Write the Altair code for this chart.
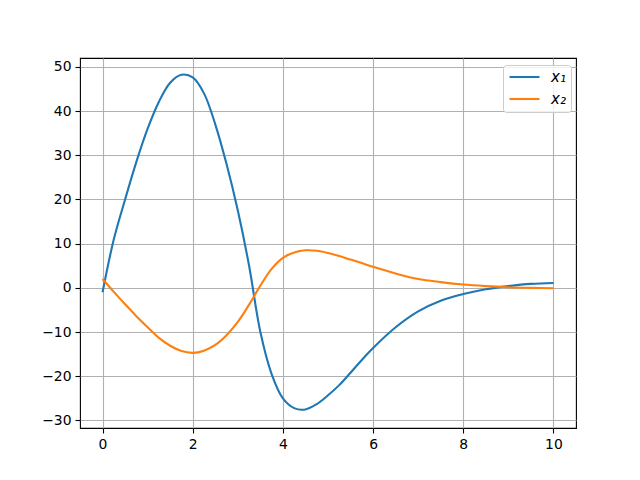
import altair as alt
import pandas as pd

t_x1 = [0.0, 0.25, 0.5, 0.75, 1.0, 1.25, 1.5, 1.75, 2.0, 2.25, 2.5, 2.75, 3.0, 3.25, 3.5, 3.75, 4.0,
        4.25, 4.5, 4.75, 5.0, 5.25, 5.5, 5.75, 6.0, 6.5, 7.0, 7.5, 8.0, 8.5, 9.0, 9.5, 10.0]
x1 = [-1.0, 11.0, 20.0, 28.5, 36.0, 42.1, 46.4, 48.2, 47.6, 44.0, 37.0, 28.0, 17.5, 5.0, -10.0, -19.5, -25.0,
      -27.2, -27.5, -26.3, -24.3, -22.0, -19.2, -16.3, -13.6, -8.9, -5.3, -2.9, -1.4, -0.3, 0.4, 0.9, 1.1]

t_x2 = [0.0, 0.25, 0.5, 0.75, 1.0, 1.25, 1.5, 1.75, 2.0, 2.25, 2.5, 2.75, 3.0, 3.25, 3.5, 3.75, 4.0,
        4.25, 4.5, 4.75, 5.0, 5.25, 5.5, 5.75, 6.0, 6.5, 7.0, 7.5, 8.0, 8.5, 9.0, 9.5, 10.0]
x2 = [2.0, -0.9, -3.7, -6.4, -8.9, -11.3, -13.1, -14.3, -14.7, -14.2, -12.9, -10.7, -7.7, -3.8, 0.5, 4.3, 6.8,
      8.0, 8.5, 8.4, 7.9, 7.2, 6.4, 5.6, 4.75, 3.25, 2.0, 1.3, 0.75, 0.4, 0.15, 0.0, -0.1]

labels = ["x₁", "x₂"]
colors = ["#1f77b4", "#ff7f0e"]
x_ticks = [0, 2, 4, 6, 8, 10]
y_ticks = [-30, -20, -10, 0, 10, 20, 30, 40, 50]

df = pd.concat([
    pd.DataFrame({"t": t_x1, "v": x1, "s": labels[0]}),
    pd.DataFrame({"t": t_x2, "v": x2, "s": labels[1]}),
])

chart = alt.Chart(df).mark_line(strokeWidth=2.1, interpolate="catmull-rom").encode(
    x=alt.X("t:Q", scale=alt.Scale(domain=[-0.5, 10.5], nice=False, zero=False),
            axis=alt.Axis(values=x_ticks, title=None, format="d")),
    y=alt.Y("v:Q", scale=alt.Scale(domain=[-31.7, 52], nice=False, zero=False),
            axis=alt.Axis(values=y_ticks, title=None, format="d")),
    color=alt.Color("s:N", scale=alt.Scale(domain=labels, range=colors),
                    legend=alt.Legend(title=None, orient="none", legendX=423, legendY=7,
                                      symbolType="stroke", symbolSize=900, symbolStrokeWidth=2.1,
                                      clipHeight=14,
                                      labelFontSize=15, labelFontStyle="italic", labelFont="DejaVu Sans",
                                      labelColor="black", padding=5, rowPadding=7,
                                      strokeColor="#cccccc", fillColor="rgba(255,255,255,0.8)",
                                      cornerRadius=3, labelOffset=10)),
    detail="s:N",
).properties(
    width=496, height=370,
    autosize=alt.AutoSizeParams(type="none"),
    padding={"left": 72, "top": 50, "right": 56, "bottom": 44},
).configure_view(
    stroke="black", strokeWidth=1.1
).configure_axis(
    grid=True, gridColor="#b0b0b0", gridWidth=1.1, domain=False,
    tickColor="black", tickWidth=1.1, tickSize=5, labelPadding=4,
    labelFont="DejaVu Sans", labelFontSize=13.9, labelColor="black",
)

chart.save("out.html", embed_options={"renderer": "svg", "actions": False})
